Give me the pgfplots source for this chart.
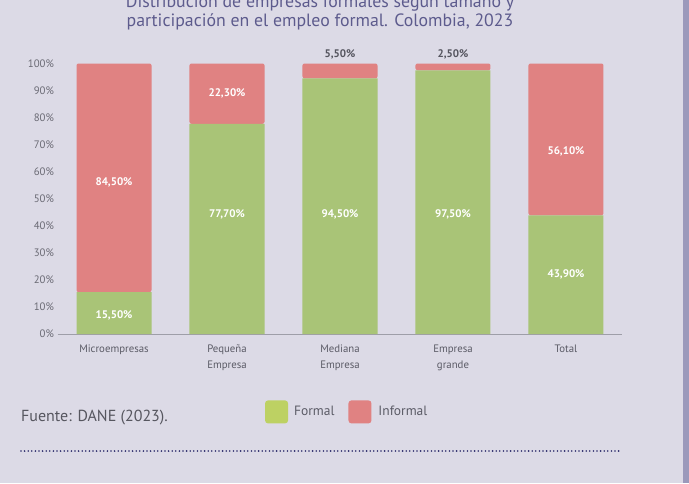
\documentclass[border=0pt]{standalone}
\usepackage{fontspec}
\setmainfont{PT Sans}
\usepackage{pgfplots}
\pgfplotsset{compat=1.18}
\definecolor{bg}{HTML}{DCDAE6}
\definecolor{barG}{HTML}{A9C477}
\definecolor{barR}{HTML}{E08282}
\definecolor{legG}{HTML}{BDD163}
\definecolor{legR}{HTML}{E08282}
\definecolor{titlec}{HTML}{5D5B8D}
\definecolor{tickc}{HTML}{6A6A74}
\definecolor{xlab}{HTML}{5B5B66}
\definecolor{axisc}{HTML}{9E9EA8}
\definecolor{topc}{HTML}{55555F}
\definecolor{fuente}{HTML}{56565F}
\definecolor{dotc}{HTML}{2B2B6B}
\definecolor{stripe}{HTML}{9B99BB}

\begin{document}
\begin{tikzpicture}[
  lbl/.style={text=white, font=\bfseries\fontsize{11}{13}\selectfont},
  toplbl/.style={text=topc, font=\bfseries\fontsize{11}{13}\selectfont}]
\useasboundingbox (0pt,0pt) rectangle (689pt,483pt);
\clip (0pt,0pt) rectangle (689pt,483pt);
\fill[bg] (0pt,0pt) rectangle (689pt,483pt);
\fill[stripe] (683pt,0pt) rectangle (689pt,483pt);

% title (first line is cut by the page edge)
\node[anchor=base, text=titlec, font=\fontsize{17.8}{20}\selectfont] at (320pt,475pt) {Distribución de empresas formales según tamaño y};
\node[anchor=base, text=titlec, font=\fontsize{17.8}{20}\selectfont] at (320pt,456pt) {participación en el empleo formal. Colombia, 2023};

\begin{axis}[
  at={(57.5pt,149pt)}, anchor=south west,
  scale only axis, width=565pt, height=270.5pt,
  ybar stacked, bar width=75pt,
  xmin=-0.5, xmax=4.5, ymin=0, ymax=100,
  xtick={0,1,2,3,4},
  xticklabels={Microempresas,{Pequeña\\Empresa},{Mediana\\Empresa},{Empresa\\grande},Total},
  xticklabel style={align=center, text=xlab, font=\fontsize{10.8}{16}\selectfont, yshift=-7pt},
  ytick={0,10,...,100},
  yticklabel={\pgfmathprintnumber{\tick}\%},
  yticklabel style={text=tickc, font=\fontsize{10.8}{12}\selectfont},
  /pgf/number format/assume math mode=true,
  axis x line=bottom, axis y line=left,
  y axis line style={draw=none},
  x axis line style={draw=axisc, line width=0.8pt, -},
  major tick length=0pt,
  clip=false,
  legend style={at={(axis description cs:0.367,-0.288)}, anchor=west, draw=none, fill=none,
    inner sep=0pt, font=\fontsize{13.5}{15}\selectfont, text=xlab,
    /tikz/every even column/.append style={column sep=12pt}},
  legend columns=2,
  legend image code/.code={\fill[#1, draw=none, rounded corners=3pt] (0pt,-11.5pt) rectangle (23pt,11.5pt);},
]
\addplot[fill=barG, draw=none, forget plot]
  coordinates {(0,15.5) (1,77.7) (2,94.5) (3,97.5) (4,43.9)};
\addplot[fill=barR, draw=none, rounded corners=2pt, forget plot]
  coordinates {(0,84.5) (1,22.3) (2,5.5) (3,2.5) (4,56.1)};
\addlegendimage{fill=legG}
\addlegendentry{\hspace{4pt}Formal}
\addlegendimage{fill=legR}
\addlegendentry{\hspace{5pt}Informal}

\coordinate (f0) at (axis cs:0,7);
\coordinate (i0) at (axis cs:0,55.9);
\coordinate (f1) at (axis cs:1,44.1);
\coordinate (i1) at (axis cs:1,88.9);
\coordinate (f2) at (axis cs:2,44.1);
\coordinate (i2) at (axis cs:2,103.3);
\coordinate (f3) at (axis cs:3,44.1);
\coordinate (i3) at (axis cs:3,103.3);
\coordinate (f4) at (axis cs:4,22.2);
\coordinate (i4) at (axis cs:4,67.4);
\end{axis}

\node[lbl] at (f0) {15,50\%};
\node[lbl] at (i0) {84,50\%};
\node[lbl] at (f1) {77,70\%};
\node[lbl] at (i1) {22,30\%};
\node[lbl] at (f2) {94,50\%};
\node[toplbl] at (i2) {5,50\%};
\node[lbl] at (f3) {97,50\%};
\node[toplbl] at (i3) {2,50\%};
\node[lbl] at (f4) {43,90\%};
\node[lbl] at (i4) {56,10\%};

\node[anchor=base west, inner sep=0pt, text=fuente, font=\fontsize{16}{18}\selectfont] at (21pt,62pt) {Fuente: DANE (2023).};
\draw[dotc, line width=1.8pt, dash pattern=on 0pt off 3.6pt, line cap=round] (21pt,32pt) -- (620pt,32pt);
\end{tikzpicture}
\end{document}
